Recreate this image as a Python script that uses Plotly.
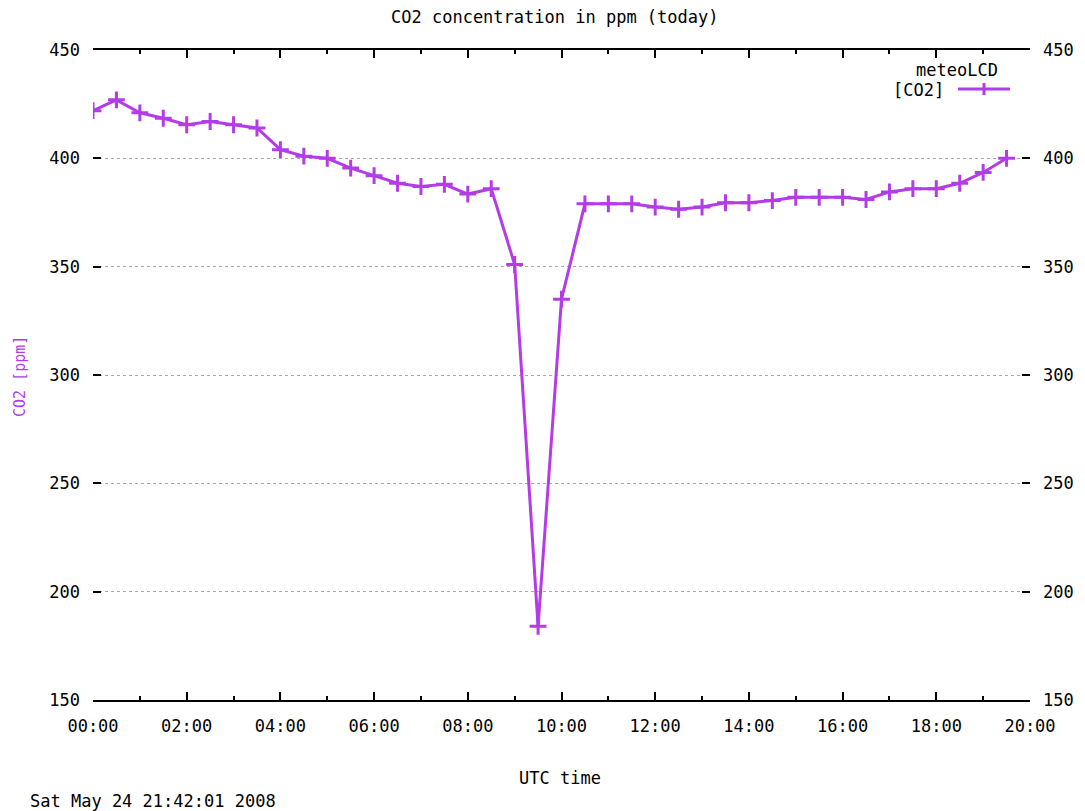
import plotly.graph_objects as go

# ---- data ----
hours = [i * 0.5 for i in range(40)]  # 00:00 .. 19:30 every 30 min
co2_ppm = [
    422, 427, 421, 418.5, 415.5, 417, 415.5, 414,
    404, 401, 400, 395.5, 392, 388.5, 387, 388,
    383.5, 386, 351, 184, 335, 379, 379, 379,
    377.5, 376.5, 377.5, 379.5, 379.5, 380.5, 382, 382,
    382, 381, 384.5, 386, 386, 388.5, 393.5, 400,
]
x_tickvals = [0, 2, 4, 6, 8, 10, 12, 14, 16, 18, 20]
x_ticklabels = ["00:00", "02:00", "04:00", "06:00", "08:00", "10:00",
                "12:00", "14:00", "16:00", "18:00", "20:00"]
y_tickvals = [150, 200, 250, 300, 350, 400, 450]

PURPLE = "#b43ce6"
FONT = "DejaVu Sans Mono"

# page geometry (body margin removed via post_script)
W, H = 1085, 811
PL, PR, PT, PB = 93, 1030, 50, 700  # plot area in window pixels
L, T = PL, PT
R, B = W - PR, H - PB
pw, ph = PR - PL, PB - PT


def px(xp):
    return (xp - PL) / pw


def py(yp):
    return 1 - (yp - PT) / ph


fig = go.Figure()
fig.add_trace(go.Scatter(
    x=hours, y=co2_ppm, mode="lines+markers",
    line=dict(color=PURPLE, width=3),
    marker=dict(symbol="cross-thin", size=12, line=dict(color=PURPLE, width=3)),
    showlegend=False, hoverinfo="skip",
))
# invisible copy for right axis
fig.add_trace(go.Scatter(
    x=hours, y=co2_ppm, mode="lines", yaxis="y2", opacity=0,
    showlegend=False, hoverinfo="skip",
))

fig.update_layout(
    width=W, height=H,
    margin=dict(l=L, r=R, t=T, b=B, autoexpand=False),
    plot_bgcolor="white", paper_bgcolor="white",
    font=dict(family=FONT, size=17, color="black"),
    xaxis=dict(
        range=[0, 20], tickvals=x_tickvals, ticktext=x_ticklabels,
        ticks="inside", ticklen=8, tickwidth=1.5, tickcolor="black",
        showline=True, linecolor="black", linewidth=2, mirror="ticks",
        showgrid=False, zeroline=False, ticklabelstandoff=10,
        minor=dict(dtick=1, ticks="inside", ticklen=4, tickcolor="black", tickwidth=1.5, showgrid=False),
    ),
    yaxis=dict(
        range=[150, 450], tickvals=y_tickvals,
        ticks="inside", ticklen=8, tickwidth=1.5, tickcolor="black",
        showline=False, showgrid=True, gridcolor="#a8a8a8", griddash="dot", gridwidth=1,
        zeroline=False, ticklabelstandoff=12,
    ),
    yaxis2=dict(
        range=[150, 450], tickvals=y_tickvals, overlaying="y", side="right",
        ticks="inside", ticklen=8, tickwidth=1.5, tickcolor="black",
        showline=False, showgrid=False, zeroline=False, ticklabelstandoff=12,
    ),
)

texts = [
    ("CO2 concentration in ppm (today)", 555, 17, "center", 0, "black"),
    ("meteoLCD", 957, 70, "center", 0, "black"),
    ("[CO2]", 946, 90, "right", 0, "black"),
    ("UTC time", 560, 778, "center", 0, "black"),
    ("Sat May 24 21:42:01 2008", 28, 801, "left", 0, "black"),
    ("CO2 [ppm]", 20, 377, "center", -90, PURPLE),
]
for txt, xp, yp, xa, ang, col in texts:
    fig.add_annotation(
        x=px(xp), y=py(yp), xref="paper", yref="paper", text=txt,
        showarrow=False, xanchor=xa, yanchor="middle", textangle=ang,
        font=dict(family=FONT, size=17 if ang == 0 else 15, color=col),
    )

# legend sample line (gnuplot style: text left of the sample)
fig.add_shape(type="line", xref="paper", yref="paper",
              x0=px(958), x1=px(1010), y0=py(89), y1=py(89),
              line=dict(color=PURPLE, width=3))
fig.add_shape(type="line", xref="paper", yref="paper",
              x0=px(984), x1=px(984), y0=py(83), y1=py(95),
              line=dict(color=PURPLE, width=3))

fig.write_html(
    "out.html",
    config={"displayModeBar": False},
    post_script="document.body.style.margin='0';document.body.style.overflow='hidden';",
)
